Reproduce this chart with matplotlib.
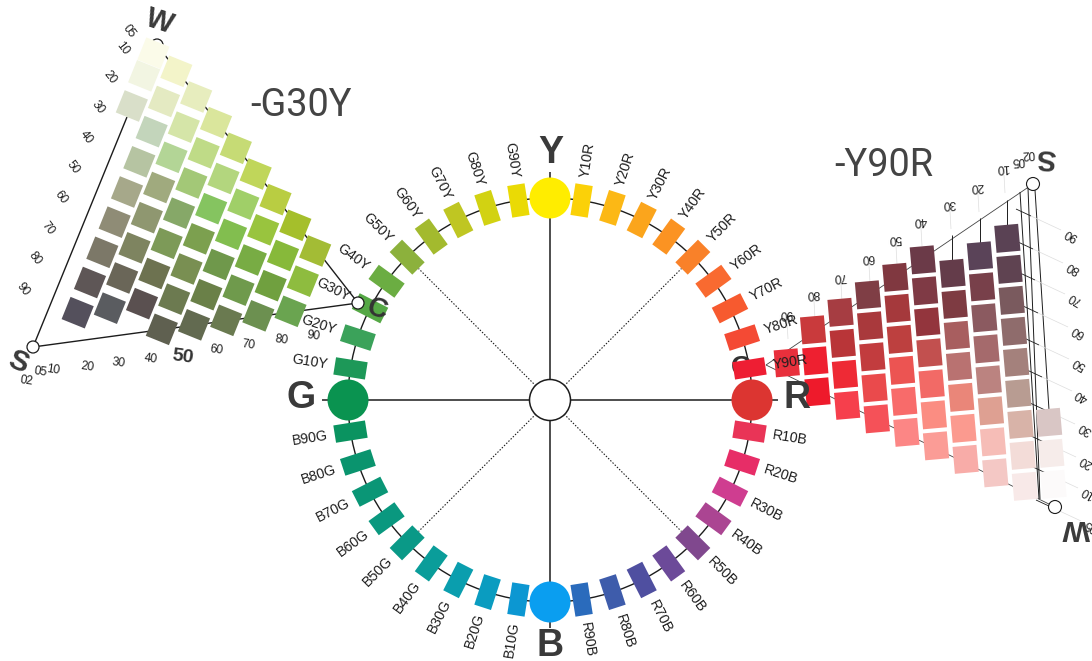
import numpy as np
import matplotlib
matplotlib.use("Agg")
import matplotlib.pyplot as plt
from matplotlib.patches import Polygon, Circle

plt.rcParams['font.family'] = ['Liberation Sans', 'DejaVu Sans']

# ---- data ---------------------------------------------------------------
primaries = ["Y", "R", "B", "G"]
primary_colors = ["#ffed00", "#dc3531", "#0a9ef0", "#0a9350"]
hue_labels = [
    "Y10R", "Y20R", "Y30R", "Y40R", "Y50R", "Y60R", "Y70R", "Y80R", "Y90R",
    "R10B", "R20B", "R30B", "R40B", "R50B", "R60B", "R70B", "R80B", "R90B",
    "B10G", "B20G", "B30G", "B40G", "B50G", "B60G", "B70G", "B80G", "B90G",
    "G10Y", "G20Y", "G30Y", "G40Y", "G50Y", "G60Y", "G70Y", "G80Y", "G90Y"]
hue_colors = [
    "#fbd108", "#fcb815", "#fba51c", "#fb9322", "#f98129", "#f96a30", "#f75a2f", "#f44a34", "#ee1e33",
    "#e93457", "#e72d67", "#cf3d90", "#ab4592", "#80488e", "#6c4a99", "#4f4fa0", "#3e5cab", "#2a6bbc",
    "#0c97d2", "#0a9cc0", "#0a9eae", "#0a9d9a", "#0a9987", "#0a987f", "#0a9676", "#0a946e", "#0a9360",
    "#1d9858", "#3ba25a", "#55a845", "#6bad42", "#8cb13c", "#a3ba2e", "#bfc622", "#d2d212", "#eada05"]

# G30Y triangle: rows top to bottom -> (row, first column, colours)
g30y_rows = [
    (0.25, 0, ["#fbfbe9"]),
    (1, 0, ["#f2f5e2", "#f3f4c9"]),
    (2, 0, ["#d9dfc9", "#e4eac2", "#e7edbe"]),
    (3, 1, ["#c3d5bb", "#d5e5a8", "#dae69c"]),
    (4, 1, ["#b6c4a2", "#b3d596", "#bfdb87", "#c6db75"]),
    (5, 1, ["#a6a88a", "#a0aa7e", "#a3c877", "#b3d67e", "#c0d65a"]),
    (6, 1, ["#8f8c76", "#8f9770", "#86a868", "#85c460", "#a0cf68", "#b9cd42"]),
    (7, 1, ["#7c7868", "#7e8460", "#7d9a58", "#7ca04f", "#82be4f", "#99c43e", "#a5bf2b"]),
    (8, 1, ["#5e5656", "#6a6658", "#6d7250", "#798f52", "#6f984b", "#78ac44", "#87b93a", "#a3bc35"]),
    (9, 1, ["#54505c", "#5a5c60", "#5a5050", "#6c7a50", "#6a8048", "#6f9a4c", "#70a03f", "#8ebc3f"]),
    (10, 4, ["#5f6050", "#626a50", "#6a7a50", "#6c9050", "#6aa450"]),
]
# Y90R triangle: columns right to left -> (column index, first row, colours)
y90r_cols = [
    (-1, 6.5, ["#d9c6c5", "#f6ecea", "#fcfafa"]),
    (0, 0, ["#5a4254", "#5f4351", "#7a5a5e", "#8f6c6c", "#a4817c", "#b89c92", "#d8b3a8", "#f3dcd8", "#f8e9e8"]),
    (1, 0, ["#5a4358", "#78404a", "#8b5a60", "#a56a6c", "#bb8380", "#dea092", "#f6bdb7", "#f4c8c5"]),
    (2, 0, ["#643c4a", "#7e3b42", "#a85e5f", "#b97271", "#ea8679", "#fb9a8f", "#f8aca8"]),
    (3, -1, ["#6b3a48", "#7f3a45", "#93353d", "#c2504f", "#f26a66", "#fb8d82", "#fb9c96"]),
    (4, -1, ["#803840", "#a5393c", "#bd403f", "#ec5452", "#f86b6a", "#fc8685"]),
    (5, -1, ["#7f3e45", "#a9393c", "#c23c3e", "#ea4a4c", "#f55158"]),
    (6, -1, ["#a63d42", "#b93538", "#ee2a35", "#f63f4c"]),
    (7, -1, ["#c93a3c", "#ee2030", "#ee1a2b"]),
    (8, -0.5, ["#e8303c"]),
]
left_side_ticks = ["05", "10", "20", "30", "40", "50", "60", "70", "80", "90"]
left_bottom_ticks = ["02", "05", "10", "20", "30", "40", "50", "60", "70", "80", "90"]
right_top_ticks = ["90", "80", "70", "60", "50", "40", "30", "20", "10", "05", "02"]
right_side_ticks = ["90", "80", "70", "60", "50", "40", "30", "20", "10", "05"]

# ---- layout -------------------------------------------------------------
W, H = 1092, 661
fig = plt.figure(figsize=(W / 100, H / 100), dpi=100)
ax = fig.add_axes([0, 0, 1, 1])
ax.set_xlim(0, W)
ax.set_ylim(H, 0)
ax.axis("off")

CX, CY, R = 550, 400, 202
INK = "#1c1c1c"
LBL = "#1e1e1e"

def line(p, q, lw=1.0, color=INK, ls="-", z=1):
    ax.plot([p[0], q[0]], [p[1], q[1]], lw=lw, color=color, ls=ls, zorder=z,
            solid_capstyle="butt")

def tile(cx, cy, w, h, deg, color, z=3):
    a = np.radians(deg)
    ux, uy = np.array([np.cos(a), np.sin(a)]), np.array([-np.sin(a), np.cos(a)])
    c = np.array([cx, cy])
    pts = [c - ux * w / 2 - uy * h / 2, c + ux * w / 2 - uy * h / 2,
           c + ux * w / 2 + uy * h / 2, c - ux * w / 2 + uy * h / 2]
    ax.add_patch(Polygon(pts, closed=True, fc=color, ec="none", zorder=z))

def polar(theta, r):
    t = np.radians(theta)
    return CX + r * np.sin(t), CY - r * np.cos(t)

def txt(x, y, s, size, rot=0, weight="normal", color=LBL, z=6):
    ax.text(x, y, s, fontsize=size, rotation=rot, rotation_mode="anchor",
            ha="center", va="center", fontweight=weight, color=color, zorder=z)

# ---- hue circle ---------------------------------------------------------
ax.add_patch(Circle((CX, CY), R, fc="none", ec=INK, lw=1.0, zorder=1))
for theta in [0, 90, 180, 270]:
    line((CX, CY), polar(theta, 228), lw=1.1, z=1)
for theta in [45, 135, 225, 315]:
    line(polar(theta, 20), polar(theta, 186), lw=0.8, ls=(0, (1.3, 1.5)), z=1)

for i, (lab, col) in enumerate(zip(hue_labels, hue_colors)):
    theta = (i // 9) * 90 + (i % 9 + 1) * 9
    x, y = polar(theta, R)
    tile(x, y, 17.5, 32, theta, col, z=3)
    tx, ty = polar(theta, 243)
    phi = 90 - theta
    rot = phi if np.cos(np.radians(phi)) >= 0 else phi + 180
    txt(tx, ty, lab, 10.2, rot=rot)

# hidden C mark peeking out above the Y90R tile
txt(741, 368, "C", 20, weight="bold", color="#333333", z=2)

for theta, name, col in zip([0, 90, 180, 270], primaries, primary_colors):
    x, y = polar(theta, R)
    ax.add_patch(Circle((x, y), 20.5, fc=col, ec="none", zorder=4))
ax.add_patch(Circle((CX, CY), 20.5, fc="white", ec=INK, lw=1.1, zorder=4))

txt(551, 153, "Y", 27, weight="bold", color="#3a3a3a")
txt(550, 646, "B", 27, weight="bold", color="#3a3a3a")
txt(301, 398, "G", 27, weight="bold", color="#3a3a3a")
txt(797, 398, "R", 27, weight="bold", color="#3a3a3a")

# ---- G30Y triangle ------------------------------------------------------
S_l, W_l, C_l = (33, 347), (157, 45), (358, 303)
line(S_l, (127, 117), lw=1.0, z=1)
line(S_l, C_l, lw=1.0, z=1)
line(W_l, C_l, lw=1.0, z=1)

u = np.array([96.5, -13.5]) / 3
v = np.array([-37.0, 90.5]) / 3
orig_l = np.array([233, 938]) / 3 - 9 * v - u      # row 0, column 0
for r, c0, cols in g30y_rows:
    for k, col in enumerate(cols):
        p = orig_l + (c0 + k) * u + r * v
        tile(p[0], p[1], 25, 24, 22, col, z=3)

ax.add_patch(Circle(W_l, 6, fc="white", ec=INK, lw=0.9, zorder=2))
for p in [S_l, C_l]:
    ax.add_patch(Circle(p, 6, fc="white", ec=INK, lw=0.9, zorder=5))
txt(377, 310, "C", 20, rot=-15, weight="bold", color="#333333")

left_side_pos = [(129, 31), (122, 48), (110, 77), (98, 107), (86, 137), (73, 167),
                 (61, 197), (48, 228), (35, 258), (23, 289)]
for s, (x, y) in zip(left_side_ticks, left_side_pos):
    txt(x, y, s, 8.6, rot=-52)
left_bottom_pos = [(26, 381), (40, 372), (53, 370), (87, 367), (119, 363), (151, 359),
                   (183, 357), (216, 350), (248, 345), (281, 340), (313, 336)]
for s, (x, y) in zip(left_bottom_ticks, left_bottom_pos):
    if s == "50":
        txt(x, y, s, 14, rot=-8, weight="bold", color="#333333")
    else:
        txt(x, y, s, 8.6, rot=-8)
txt(160, 22, "W", 21, rot=-18, weight="bold", color="#3a3a3a")
txt(18, 362, "S", 21, rot=-22, weight="bold", color="#3a3a3a")
ax.text(301, 105, "-G30Y", fontsize=27.3, family="Roboto", color="#444444",
        ha="center", va="center", zorder=6)

# ---- Y90R triangle ------------------------------------------------------
S_r, W_r, C_r = (1033, 184), (1055, 507), (766, 365)
line(S_r, C_r, lw=0.6, color="#444444", z=1)
line(W_r, C_r, lw=0.6, color="#444444", z=1)
line((1020, 192), (1039, 499), lw=0.7, z=1)
line((1028, 188), (1040, 499), lw=0.7, z=1)
line((1035, 190), (1049, 410), lw=0.7, z=1)

t = np.array([-82.3, 52.5]) / 3
w = np.array([6.6, 93.0]) / 3
orig_r = np.array([720 + 862 / 3, 130 + 325 / 3])
for k, j0, cols in y90r_cols:
    top = orig_r + k * t + j0 * w
    if k in (0, 1, 2):
        line(top + np.array([0, -38]), top, lw=0.7, z=1)
    for n, col in enumerate(cols):
        p = orig_r + k * t + (j0 + n) * w
        tile(p[0], p[1], 24, 27, -5, col, z=3)

for p in [S_r, W_r]:
    ax.add_patch(Circle(p, 6.5, fc="white", ec=INK, lw=0.8, zorder=5))

right_top_pos = [(786, 313), (813, 293), (840, 276), (868, 257), (895, 238), (920, 220),
                 (949, 203), (977, 186), (1003, 167), (1018, 160), (1028, 153)]
for s, (x, y) in zip(right_top_ticks, right_top_pos):
    txt(x, y, s, 8.6, rot=183)
    if s not in ("05", "02"):
        line((x + 1, y + 8), (x + 2, y + 26), lw=0.5, color="#dddddd", z=1)
right_side_pos = [(1071, 234), (1073, 267), (1075, 298), (1078, 331), (1079, 363),
                  (1082, 395), (1085, 428), (1086, 461), (1088, 492), (1091, 525)]
for s, (x, y) in zip(right_side_ticks, right_side_pos):
    txt(x, y, s, 8.6, rot=150)
    line((x - 10, y - 4), (x - 40, y - 18), lw=0.5, color="#dddddd", z=1)
    line((x - 40, y - 18), (x - 55, y - 25), lw=0.6, color=INK, z=1)
txt(1046, 157, "S", 21, rot=177, weight="bold", color="#3a3a3a")
txt(1076, 528, "W", 21, rot=180, weight="bold", color="#3a3a3a")
ax.text(884, 166, "-Y90R", fontsize=27.3, family="Roboto", color="#444444",
        ha="center", va="center", zorder=6)

fig.savefig("out.png", dpi=100, facecolor="white")
